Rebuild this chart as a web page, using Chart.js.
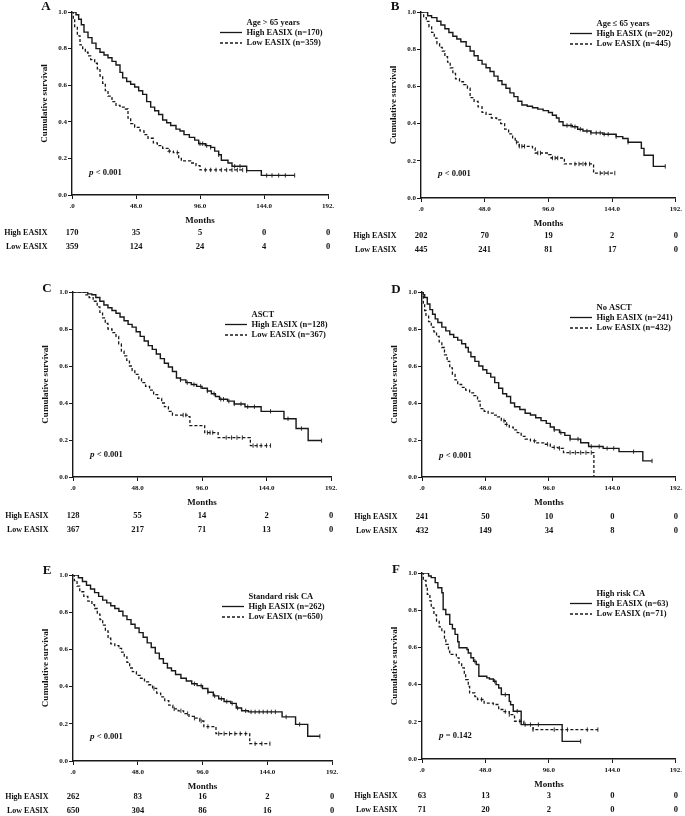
<!DOCTYPE html>
<html>
<head>
<meta charset="utf-8">
<script src="https://cdn.jsdelivr.net/npm/chart.js@4.4.1/dist/chart.umd.min.js"></script>
<style>
  body { margin: 0; background: #fff; width: 685px; height: 816px; position: relative; overflow: hidden; }
  canvas { position: absolute; }
</style>
</head>
<body>
<canvas id="cA" width="342" height="262" style="left:0;top:0"></canvas>
<canvas id="cB" width="343" height="262" style="left:342px;top:0"></canvas>
<canvas id="cC" width="342" height="282" style="left:0;top:262px"></canvas>
<canvas id="cD" width="343" height="282" style="left:342px;top:262px"></canvas>
<canvas id="cE" width="342" height="272" style="left:0;top:544px"></canvas>
<canvas id="cF" width="343" height="272" style="left:342px;top:544px"></canvas>
<script>
'use strict';

// x axis (months) and number-at-risk time points
const MONTH_TICKS = [0, 48, 96, 144, 192];
const MONTH_LABELS = ['.0', '48.0', '96.0', '144.0', '192.'];

// Kaplan-Meier steps: [month, cumulative survival]
// A - Age > 65 years
const A_HIGH = [[0,1],[2,1],[3,0.985],[5,0.96],[7,0.93],[9,0.89],[12,0.86],[15,0.83],[18,0.80],[21,0.78],[24,0.765],[27,0.75],[30,0.73],[33,0.71],[36,0.67],[38,0.64],[41,0.62],[44,0.605],[47,0.59],[50,0.57],[53,0.55],[56,0.51],[59,0.48],[62,0.46],[65,0.44],[68,0.41],[71,0.395],[74,0.38],[78,0.36],[81,0.35],[84,0.33],[88,0.315],[92,0.30],[95,0.28],[100,0.27],[104,0.26],[107,0.24],[110,0.22],[112,0.19],[117,0.175],[120,0.157],[131,0.133],[142,0.107],[167,0.107]];
const A_LOW = [[0,1],[1,0.96],[2,0.92],[4,0.87],[6,0.82],[8,0.80],[10,0.78],[12,0.76],[14,0.74],[17,0.72],[19,0.69],[21,0.65],[23,0.61],[25,0.57],[27,0.54],[30,0.51],[33,0.49],[36,0.48],[40,0.47],[42,0.42],[44,0.39],[47,0.37],[51,0.35],[54,0.33],[57,0.31],[61,0.285],[64,0.27],[68,0.255],[72,0.24],[76,0.232],[80,0.20],[82,0.186],[89,0.175],[93,0.16],[96,0.137],[128,0.137]];
const A_HIGH_CENS = [96,98,101,104,110,122,126,131,146,150,155,160,167];
const A_LOW_CENS = [73,79,100,104,108,112,116,120,124,128];
const A_RISK_HIGH = [170, 35, 5, 0, 0];
const A_RISK_LOW = [359, 124, 24, 4, 0];

// B - Age <= 65 years
const B_HIGH = [[0,1],[3,1],[5,0.98],[8,0.97],[12,0.95],[15,0.93],[18,0.91],[21,0.89],[24,0.87],[27,0.855],[30,0.84],[34,0.815],[37,0.79],[40,0.765],[43,0.74],[46,0.72],[49,0.70],[52,0.68],[55,0.655],[58,0.63],[61,0.61],[64,0.59],[67,0.565],[70,0.545],[73,0.52],[76,0.50],[80,0.493],[84,0.485],[88,0.478],[92,0.47],[96,0.46],[99,0.445],[102,0.43],[104,0.41],[107,0.39],[114,0.383],[118,0.37],[122,0.36],[128,0.35],[137,0.343],[147,0.33],[152,0.32],[156,0.30],[166,0.267],[168,0.23],[175,0.17],[184,0.17]];
const B_LOW = [[0,1],[2,0.97],[4,0.95],[6,0.92],[8,0.89],[10,0.86],[12,0.83],[14,0.81],[16,0.79],[18,0.76],[20,0.73],[22,0.70],[24,0.67],[26,0.64],[29,0.625],[32,0.61],[35,0.59],[37,0.54],[40,0.52],[43,0.49],[46,0.46],[49,0.45],[53,0.43],[57,0.42],[60,0.40],[63,0.37],[66,0.345],[69,0.32],[71,0.30],[74,0.278],[84,0.269],[86,0.242],[96,0.233],[98,0.215],[108,0.183],[130,0.134],[146,0.134]];
const B_HIGH_CENS = [110,113,116,120,125,128,132,135,138,141,147,156,184];
const B_LOW_CENS = [72,74,76,78,88,90,99,101,103,116,119,122,124,127,135,138,141,146];
const B_RISK_HIGH = [202, 70, 19, 2, 0];
const B_RISK_LOW = [445, 241, 81, 17, 0];

// C - ASCT
const C_HIGH = [[0,1],[8,1],[11,0.99],[14,0.985],[17,0.97],[20,0.95],[23,0.93],[26,0.915],[29,0.90],[32,0.885],[35,0.865],[38,0.845],[41,0.825],[44,0.81],[47,0.785],[50,0.76],[53,0.735],[56,0.71],[59,0.69],[62,0.665],[65,0.64],[68,0.615],[71,0.595],[74,0.57],[77,0.535],[80,0.525],[84,0.51],[88,0.50],[92,0.49],[96,0.48],[100,0.465],[103,0.45],[106,0.435],[109,0.42],[115,0.41],[120,0.395],[128,0.38],[140,0.355],[157,0.315],[166,0.262],[175,0.197],[185,0.197]];
const C_LOW = [[0,1],[7,1],[9,0.985],[12,0.97],[15,0.95],[18,0.92],[20,0.89],[22,0.86],[24,0.83],[26,0.80],[29,0.78],[32,0.76],[34,0.72],[36,0.68],[38,0.655],[40,0.63],[42,0.60],[44,0.575],[46,0.555],[49,0.53],[51,0.51],[54,0.49],[57,0.47],[60,0.445],[63,0.425],[66,0.40],[68,0.38],[71,0.355],[74,0.335],[85,0.326],[87,0.278],[98,0.24],[108,0.213],[132,0.17],[147,0.17]];
const C_HIGH_CENS = [80,85,90,95,100,105,110,112,116,120,125,130,135,147,160,170,185];
const C_LOW_CENS = [82,84,100,102,104,114,118,122,126,134,137,140,144,147];
const C_RISK_HIGH = [128, 55, 14, 2, 0];
const C_RISK_LOW = [367, 217, 71, 13, 0];

// D - No ASCT
const D_HIGH = [[0,1],[1,0.985],[2,0.97],[4,0.935],[6,0.905],[8,0.88],[10,0.855],[12,0.835],[15,0.81],[18,0.79],[21,0.77],[24,0.755],[27,0.74],[30,0.72],[33,0.70],[35,0.675],[37,0.65],[40,0.625],[43,0.60],[46,0.58],[49,0.56],[52,0.54],[55,0.51],[58,0.48],[61,0.45],[64,0.435],[67,0.40],[70,0.38],[74,0.365],[78,0.345],[82,0.335],[86,0.32],[90,0.305],[94,0.29],[97,0.27],[100,0.255],[104,0.24],[108,0.225],[112,0.205],[120,0.185],[126,0.165],[137,0.155],[149,0.137],[167,0.087],[174,0.087]];
const D_LOW = [[0,1],[1,0.94],[2,0.90],[3,0.87],[5,0.84],[7,0.81],[9,0.785],[11,0.76],[13,0.73],[15,0.70],[17,0.66],[19,0.625],[21,0.59],[23,0.555],[25,0.525],[27,0.50],[30,0.485],[33,0.47],[36,0.455],[39,0.44],[42,0.41],[44,0.37],[47,0.355],[50,0.345],[54,0.335],[57,0.325],[60,0.305],[63,0.285],[66,0.27],[69,0.255],[72,0.24],[75,0.22],[78,0.205],[82,0.195],[86,0.185],[92,0.177],[97,0.16],[103,0.155],[107,0.132],[130,0]];
const D_HIGH_CENS = [100,105,112,118,128,134,140,145,160,174];
const D_LOW_CENS = [62,64,85,95,100,104,112,116,120,124,128];
const D_RISK_HIGH = [241, 50, 10, 0, 0];
const D_RISK_LOW = [432, 149, 34, 8, 0];

// E - Standard risk CA
const E_HIGH = [[0,1],[2,1],[4,0.985],[7,0.965],[10,0.945],[13,0.925],[16,0.905],[19,0.885],[22,0.865],[25,0.85],[28,0.835],[31,0.82],[34,0.805],[37,0.78],[40,0.76],[43,0.735],[46,0.715],[49,0.69],[52,0.665],[55,0.635],[58,0.61],[61,0.58],[64,0.55],[67,0.525],[70,0.50],[73,0.485],[76,0.465],[80,0.445],[84,0.43],[88,0.415],[92,0.405],[96,0.39],[100,0.37],[104,0.35],[108,0.335],[112,0.32],[117,0.31],[121,0.285],[125,0.27],[130,0.264],[155,0.237],[165,0.197],[174,0.133],[183,0.133]];
const E_LOW = [[0,1],[1,0.97],[3,0.94],[5,0.91],[8,0.885],[11,0.86],[14,0.84],[16,0.82],[18,0.79],[20,0.76],[22,0.73],[24,0.70],[26,0.66],[28,0.63],[31,0.62],[34,0.605],[36,0.585],[38,0.56],[40,0.53],[42,0.50],[44,0.48],[47,0.46],[50,0.445],[53,0.425],[56,0.41],[59,0.39],[62,0.365],[65,0.345],[68,0.325],[71,0.30],[74,0.28],[78,0.27],[82,0.255],[86,0.24],[90,0.23],[94,0.215],[97,0.185],[106,0.147],[131,0.093],[146,0.093]];
const E_HIGH_CENS = [90,95,100,105,110,114,118,122,128,132,135,138,141,144,147,150,158,168,183];
const E_LOW_CENS = [60,75,80,85,90,95,100,108,112,116,120,124,128,135,140,146];
const E_RISK_HIGH = [262, 83, 16, 2, 0];
const E_RISK_LOW = [650, 304, 86, 16, 0];

// F - High risk CA
const F_HIGH = [[0,1],[4,1],[5,0.984],[7,0.975],[10,0.948],[12,0.921],[15,0.894],[16,0.804],[18,0.777],[21,0.724],[23,0.70],[25,0.67],[27,0.63],[28,0.598],[34,0.589],[35,0.57],[37,0.544],[39,0.525],[41,0.508],[43,0.445],[49,0.436],[51,0.43],[54,0.418],[56,0.40],[58,0.382],[60,0.346],[66,0.31],[67,0.292],[69,0.257],[75,0.185],[106,0.095],[120,0.095]];
const F_LOW = [[0,1],[1,0.96],[3,0.93],[4,0.885],[6,0.85],[7,0.813],[9,0.775],[11,0.74],[13,0.71],[15,0.687],[17,0.65],[18,0.616],[20,0.58],[21,0.562],[26,0.544],[28,0.515],[30,0.49],[32,0.46],[33,0.427],[35,0.39],[36,0.355],[40,0.335],[42,0.32],[47,0.30],[54,0.293],[58,0.266],[62,0.255],[66,0.239],[70,0.203],[77,0.185],[84,0.158],[133,0.158]];
const F_HIGH_CENS = [40,55,63,72,82,88,120];
const F_LOW_CENS = [45,63,66,74,78,84,100,110,125,133];
const F_RISK_HIGH = [63, 13, 3, 0, 0];
const F_RISK_LOW = [71, 20, 2, 0, 0];

const INK = '#111';
const LINE = '#181818';
const SERIF = '"Liberation Serif", "Times New Roman", serif';

// panel layout: chart area box inside each canvas + offsets of the annotations
const panels = [
  { canvas: 'cA', letter: 'A', group: 'Age > 65 years', nHigh: 170, nLow: 359, p: '< 0.001',
    high: A_HIGH, low: A_LOW, highCens: A_HIGH_CENS, lowCens: A_LOW_CENS, riskHigh: A_RISK_HIGH, riskLow: A_RISK_LOW,
    area: [72, 12, 328, 195], letterDy: -5.5, legX: 148, legY: 11, pDy: -22, riskDy: 38 },
  { canvas: 'cB', letter: 'B', group: 'Age \u2264 65 years', nHigh: 202, nLow: 445, p: '< 0.001',
    high: B_HIGH, low: B_LOW, highCens: B_HIGH_CENS, lowCens: B_LOW_CENS, riskHigh: B_RISK_HIGH, riskLow: B_RISK_LOW,
    area: [79, 12, 336, 198], letterDy: -5.5, legX: 149, legY: 12, pDy: -24, riskDy: 38 },
  { canvas: 'cC', letter: 'C', group: 'ASCT', nHigh: 128, nLow: 367, p: '< 0.001',
    high: C_HIGH, low: C_LOW, highCens: C_HIGH_CENS, lowCens: C_LOW_CENS, riskHigh: C_RISK_HIGH, riskLow: C_RISK_LOW,
    area: [73, 30, 331, 215], letterDy: -3.5, legX: 152, legY: 23, pDy: -22, riskDy: 39 },
  { canvas: 'cD', letter: 'D', group: 'No ASCT', nHigh: 241, nLow: 432, p: '< 0.001',
    high: D_HIGH, low: D_LOW, highCens: D_HIGH_CENS, lowCens: D_LOW_CENS, riskHigh: D_RISK_HIGH, riskLow: D_RISK_LOW,
    area: [80, 30, 338, 215], letterDy: -2, legX: 148, legY: 16, pDy: -21, riskDy: 40 },
  { canvas: 'cE', letter: 'E', group: 'Standard risk CA', nHigh: 262, nLow: 650, p: '< 0.001',
    high: E_HIGH, low: E_LOW, highCens: E_HIGH_CENS, lowCens: E_LOW_CENS, riskHigh: E_RISK_HIGH, riskLow: E_RISK_LOW,
    area: [73, 31, 332, 217], letterDy: -4.5, legX: 149, legY: 22, pDy: -24, riskDy: 36 },
  { canvas: 'cF', letter: 'F', group: 'High risk CA', nHigh: 63, nLow: 71, p: '= 0.142',
    high: F_HIGH, low: F_LOW, highCens: F_HIGH_CENS, lowCens: F_LOW_CENS, riskHigh: F_RISK_HIGH, riskLow: F_RISK_LOW,
    area: [80, 29, 338, 215], letterDy: -3, legX: 148, legY: 21, pDy: -23, riskDy: 37 }
];

function toXY(steps) {
  return steps.map(function (s) { return { x: s[0], y: s[1] }; });
}

// survival level of a step curve at time t (censor ticks sit on the curve)
function levelAt(steps, t) {
  let y = steps[0][1];
  for (let i = 0; i < steps.length; i++) {
    if (steps[i][0] <= t) y = steps[i][1];
  }
  return y;
}

function censorPoints(steps, times) {
  return times.map(function (t) { return { x: t, y: levelAt(steps, t) }; });
}

// legend, titles, p value and number-at-risk table
const annotate = {
  id: 'annotate',
  afterDraw: function (chart, args, opts) {
    const p = opts.panel;
    const ctx = chart.ctx;
    const a = chart.chartArea;
    const xs = chart.scales.x;
    ctx.save();
    ctx.fillStyle = INK;
    ctx.textBaseline = 'middle';

    ctx.textAlign = 'center';
    ctx.font = 'bold 13px ' + SERIF;
    ctx.fillText(p.letter, a.left - 26, a.top + p.letterDy);

    ctx.font = 'bold 9px ' + SERIF;
    ctx.fillText('Months', (a.left + a.right) / 2, a.bottom + 26);

    ctx.save();
    ctx.translate(a.left - 27, (a.top + a.bottom) / 2);
    ctx.rotate(-Math.PI / 2);
    ctx.fillText('Cumulative survival', 0, 0);
    ctx.restore();

    // p value
    ctx.textAlign = 'left';
    ctx.font = 'italic bold 9px ' + SERIF;
    const px = a.left + 17, py = a.bottom + p.pDy;
    ctx.fillText('p', px, py);
    const pw = ctx.measureText('p ').width;
    ctx.font = 'bold 8.5px ' + SERIF;
    ctx.fillText(p.p, px + pw, py);

    // legend
    const lx = a.left + p.legX;
    const tx = lx + 26.5;
    const y0 = a.top + p.legY;
    ctx.font = 'bold 8.5px ' + SERIF;
    ctx.fillText(p.group, tx, y0);
    ctx.fillText('High EASIX (n=' + p.nHigh + ')', tx, y0 + 9.5);
    ctx.fillText('Low EASIX (n=' + p.nLow + ')', tx, y0 + 20);
    ctx.strokeStyle = LINE;
    ctx.lineWidth = 1.3;
    ctx.beginPath();
    ctx.moveTo(lx, y0 + 9.5); ctx.lineTo(lx + 22, y0 + 9.5);
    ctx.stroke();
    ctx.setLineDash([3, 2]);
    ctx.beginPath();
    ctx.moveTo(lx, y0 + 20); ctx.lineTo(lx + 22, y0 + 20);
    ctx.stroke();
    ctx.setLineDash([]);

    // number at risk
    const r1 = a.bottom + p.riskDy, r2 = r1 + 14;
    ctx.textAlign = 'right';
    ctx.font = 'bold 8px ' + SERIF;
    ctx.fillText('High EASIX', a.left - 24.5, r1);
    ctx.fillText('Low EASIX', a.left - 24.5, r2);
    ctx.textAlign = 'center';
    ctx.font = 'bold 8.5px ' + SERIF;
    MONTH_TICKS.forEach(function (m, i) {
      const x = xs.getPixelForValue(m);
      ctx.fillText(String(p.riskHigh[i]), x, r1);
      ctx.fillText(String(p.riskLow[i]), x, r2);
    });
    ctx.restore();
  }
};

Chart.defaults.font.family = SERIF;
Chart.defaults.color = INK;

panels.forEach(function (p) {
  const el = document.getElementById(p.canvas);
  const W = el.width, H = el.height;
  const area = p.area;
  const xAxisH = 20;

  new Chart(el, {
    type: 'line',
    data: {
      datasets: [
        { data: toXY(p.high), borderColor: LINE, borderWidth: 1.4, stepped: 'before', pointRadius: 0, fill: false },
        { data: toXY(p.low), borderColor: LINE, borderWidth: 1.3, borderDash: [3, 2], stepped: 'before', pointRadius: 0, fill: false },
        { data: censorPoints(p.high, p.highCens), showLine: false, pointStyle: 'line', pointRotation: 90,
          pointRadius: 2.2, pointBorderWidth: 0.9, pointBorderColor: LINE, borderColor: LINE },
        { data: censorPoints(p.low, p.lowCens), showLine: false, pointStyle: 'line', pointRotation: 90,
          pointRadius: 2.2, pointBorderWidth: 0.9, pointBorderColor: LINE, borderColor: LINE }
      ]
    },
    options: {
      responsive: false,
      animation: false,
      events: [],
      layout: {
        padding: { left: 0, top: area[1], right: W - area[2], bottom: H - area[3] - xAxisH }
      },
      scales: {
        x: {
          type: 'linear',
          min: 0,
          max: 192,
          afterFit: function (scale) { scale.height = xAxisH; },
          afterBuildTicks: function (scale) {
            scale.ticks = MONTH_TICKS.map(function (v) { return { value: v }; });
          },
          ticks: {
            autoSkip: false,
            maxRotation: 0,
            padding: 3,
            color: INK,
            font: { size: 7, weight: 'bold' },
            callback: function (v) { return MONTH_LABELS[MONTH_TICKS.indexOf(v)]; }
          },
          grid: { display: true, drawOnChartArea: false, drawTicks: true, tickLength: 4, color: LINE, lineWidth: 1 },
          border: { display: true, color: LINE, width: 1.4 }
        },
        y: {
          min: 0,
          max: 1,
          afterFit: function (scale) { scale.width = area[0]; },
          ticks: {
            stepSize: 0.2,
            padding: 1,
            color: INK,
            font: { size: 7, weight: 'bold' },
            callback: function (v) { return v.toFixed(1); }
          },
          grid: { display: true, drawOnChartArea: false, drawTicks: true, tickLength: 4, color: LINE, lineWidth: 1 },
          border: { display: true, color: LINE, width: 1.4 }
        }
      },
      plugins: {
        legend: { display: false },
        tooltip: { enabled: false },
        annotate: { panel: p }
      }
    },
    plugins: [annotate]
  });
});
</script>
</body>
</html>
